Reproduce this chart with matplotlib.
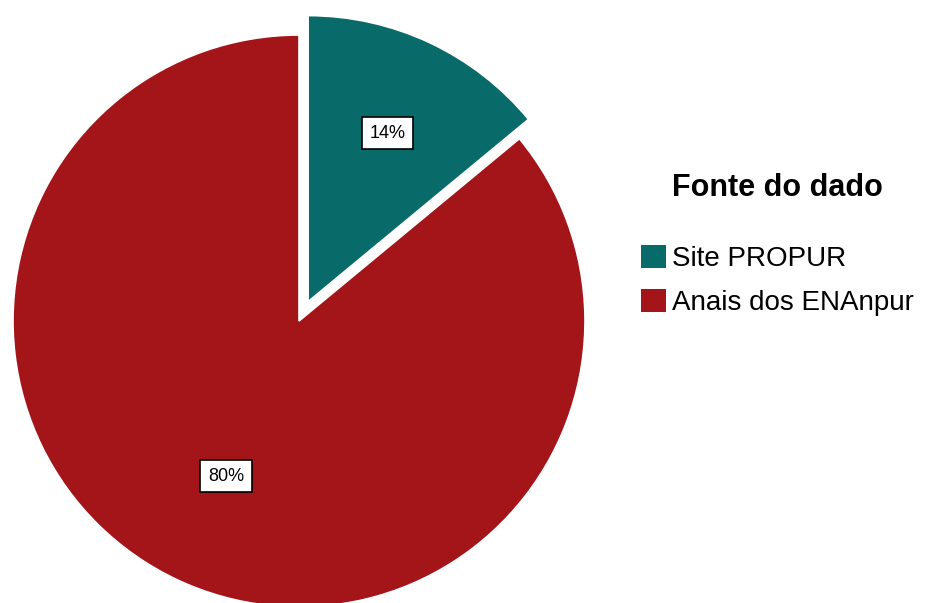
import numpy as np
import matplotlib.pyplot as plt
from matplotlib.patches import Patch

# Fonte do dado
categories = ["Site PROPUR", "Anais dos ENAnpur"]
values = [14, 86]
pct_labels = ["14%", "80%"]
colors = ["#086b6a", "#a31519"]

def main():
    plt.rcParams["font.family"] = ["Liberation Sans", "DejaVu Sans"]
    fig = plt.figure(figsize=(9.3, 6.03), dpi=100)
    W, H = 930, 603
    cx, cy, r = 299, 321, 286
    half = r * 1.1
    ax = fig.add_axes([(cx - half) / W, (H - cy - half) / H, 2 * half / W, 2 * half / H])

    wedges, _ = ax.pie(values, colors=colors, startangle=90, counterclock=False,
                       explode=[0.075, 0], radius=1,
                       wedgeprops=dict(edgecolor="white", linewidth=1.2))
    ax.set_xlim(-1.1, 1.1)
    ax.set_ylim(-1.1, 1.1)
    ax.set_aspect("equal")
    ax.axis("off")

    # etiquetas de porcentagem
    dists = [0.65, 0.6]
    for w, lab, d in zip(wedges, pct_labels, dists):
        ang = np.deg2rad((w.theta1 + w.theta2) / 2)
        x0, y0 = w.center
        ax.text(x0 + d * np.cos(ang), y0 + d * np.sin(ang), lab,
                ha="center", va="center", fontsize=13,
                bbox=dict(boxstyle="square,pad=0.42", fc="white", ec="black", lw=1.2))

    handles = [Patch(facecolor=c, edgecolor="none") for c in colors]
    leg = fig.legend(handles, categories, title="Fonte do dado",
                     loc="upper left", bbox_to_anchor=(641 / W, 1 - 173 / H),
                     frameon=False, prop=dict(size=20),
                     title_fontproperties=dict(size=22, weight="bold"),
                     handlelength=0.9, handleheight=0.9, handletextpad=0.22,
                     labelspacing=0.62, borderpad=0, borderaxespad=0)
    leg._legend_box.sep = 30

    fig.savefig("out.png", dpi=100, facecolor="white")

if __name__ == "__main__":
    main()
